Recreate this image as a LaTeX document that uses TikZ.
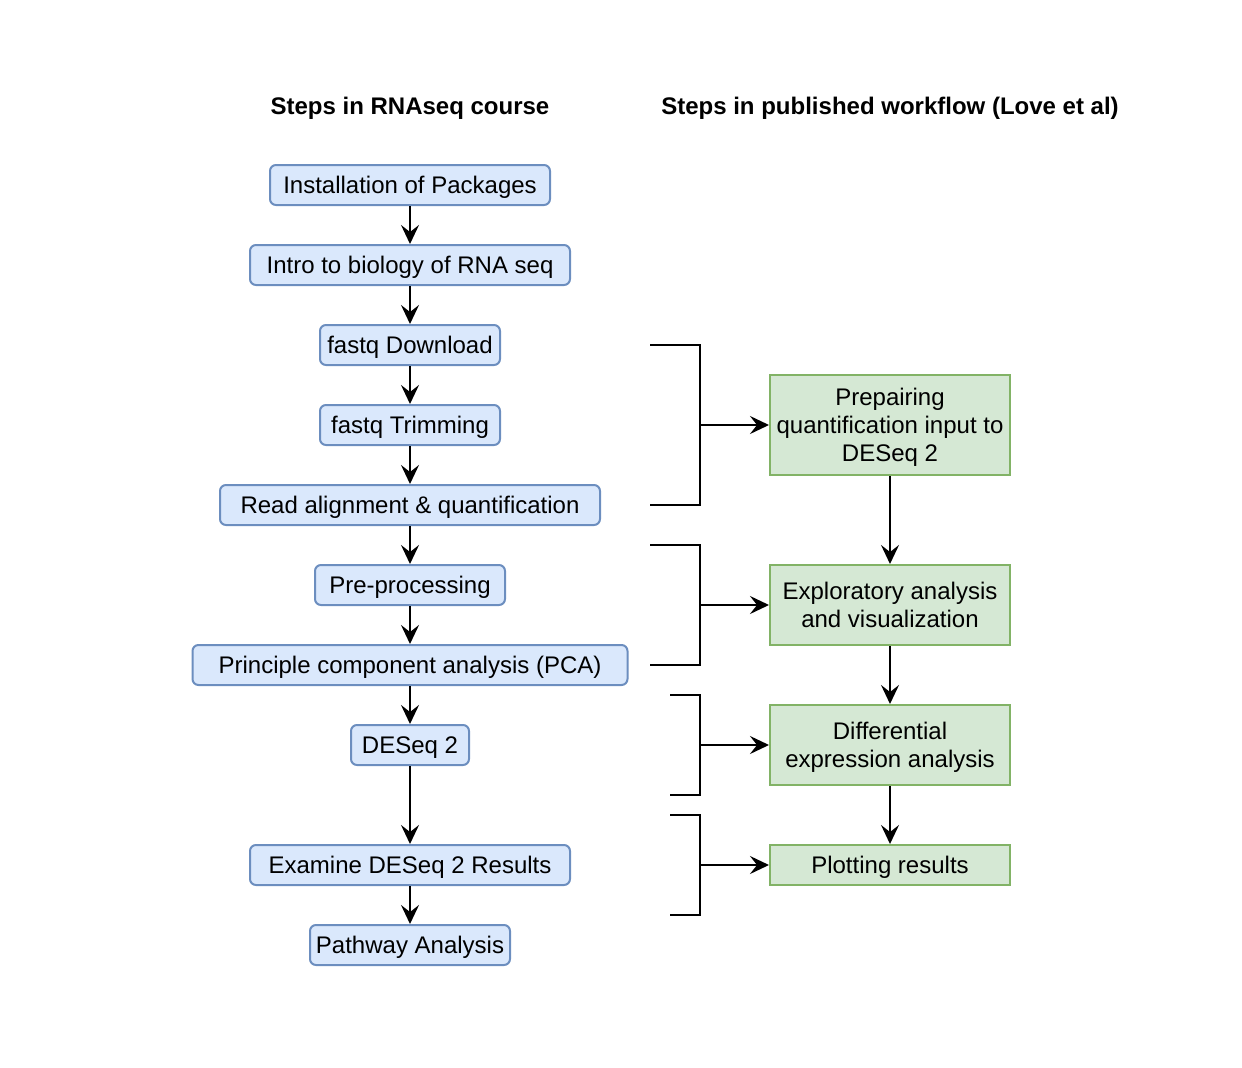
\documentclass[tikz,border=0pt]{standalone}
\usepackage{fontspec}
\setmainfont{Liberation Sans}
\usetikzlibrary{arrows.meta}
\definecolor{bluefill}{HTML}{DAE8FC}
\definecolor{blueline}{HTML}{6C8EBF}
\definecolor{greenfill}{HTML}{D5E8D4}
\definecolor{greenline}{HTML}{82B366}
\tikzset{every picture/.style={line width=2pt}}

\begin{document}
\begin{tikzpicture}[x=1pt,y=1pt,yscale=-1,font=\fontsize{24}{28}\selectfont,
  course/.style={draw=blueline,fill=bluefill,rounded corners=6,minimum height=40,inner sep=0,text depth=0},
  workflow/.style={draw=greenline,fill=greenfill,minimum width=240,inner sep=0,align=center,text depth=0},
  flow/.style={-{Stealth[length=19,width=18,inset=7]}}]

\useasboundingbox (0,0) rectangle (1242,1068);

\node (titleL) at (410,108) {\bfseries Steps in RNAseq course};
\node (titleR) at (890,108) {\bfseries Steps in published workflow (Love et al)};

\node [course,minimum width=280] (install) at (410,185) {Installation of Packages};
\node [course,minimum width=320] (intro) at (410,265) {Intro to biology of RNA seq};
\node [course,minimum width=180] (download) at (410,345) {fastq Download};
\node [course,minimum width=180] (trim) at (410,425) {fastq Trimming};
\node [course,minimum width=380] (align) at (410,505) {Read alignment \& quantification};
\node [course,minimum width=190] (preproc) at (410,585) {Pre-processing};
\node [course,minimum width=435] (pca) at (410,665) {Principle component analysis (PCA)};
\node [course,minimum width=118] (deseq) at (410,745) {DESeq 2};
\node [course,minimum width=320] (examine) at (410,865) {Examine DESeq 2 Results};
\node [course,minimum width=200] (pathway) at (410,945) {Pathway Analysis};

\node [workflow,minimum height=100] (prep) at (890,425) {Prepairing\\quantification input to\\DESeq 2};
\node [workflow,minimum height=80] (explore) at (890,605) {Exploratory analysis\\and visualization};
\node [workflow,minimum height=80] (diffex) at (890,745) {Differential\\expression analysis};
\node [workflow,minimum height=40] (plot) at (890,865) {Plotting results};

\draw [flow] (install) -- (intro);
\draw [flow] (intro) -- (download);
\draw [flow] (download) -- (trim);
\draw [flow] (trim) -- (align);
\draw [flow] (align) -- (preproc);
\draw [flow] (preproc) -- (pca);
\draw [flow] (pca) -- (deseq);
\draw [flow] (deseq) -- (examine);
\draw [flow] (examine) -- (pathway);

\draw [flow] (prep) -- (explore);
\draw [flow] (explore) -- (diffex);
\draw [flow] (diffex) -- (plot);

% brackets grouping the course steps
\draw (650,345) -- (700,345) -- (700,505) -- (650,505);
\draw (650,545) -- (700,545) -- (700,665) -- (650,665);
\draw (670,695) -- (700,695) -- (700,795) -- (670,795);
\draw (670,815) -- (700,815) -- (700,915) -- (670,915);

\coordinate (brA) at (700,425);
\coordinate (brB) at (700,605);
\coordinate (brC) at (700,745);
\coordinate (brD) at (700,865);

\draw [flow] (brA) -- (prep);
\draw [flow] (brB) -- (explore);
\draw [flow] (brC) -- (diffex);
\draw [flow] (brD) -- (plot);

\end{tikzpicture}
\end{document}
